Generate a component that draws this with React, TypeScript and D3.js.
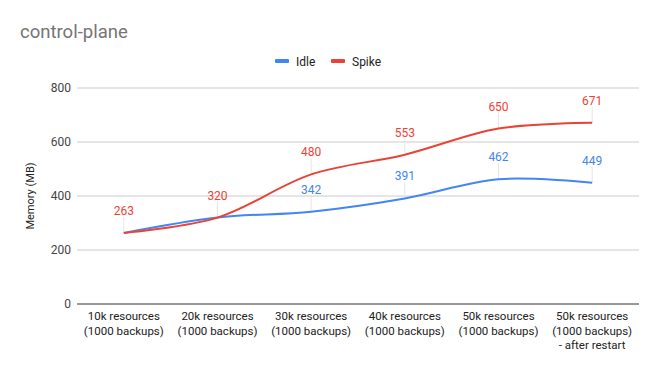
import React from "react";
import * as d3 from "d3";

const categories = [
  ["10k resources", "(1000 backups)"],
  ["20k resources", "(1000 backups)"],
  ["30k resources", "(1000 backups)"],
  ["40k resources", "(1000 backups)"],
  ["50k resources", "(1000 backups)"],
  ["50k resources", "(1000 backups)", "- after restart"],
];
const idle = [263, 320, 342, 391, 462, 449];
const spike = [263, 320, 480, 553, 650, 671];
const yTicks = [0, 200, 400, 600, 800];
const seriesNames = ["Idle", "Spike"];
const colors = ["#4285F4", "#EA4335"];

const W = 658, H = 371;
const left = 77, right = 639, top = 88, bottom = 304;

export default function App() {
  const x = d3.scaleBand<number>().domain(d3.range(categories.length)).range([left, right]);
  const cx = (i: number) => (x(i) as number) + x.bandwidth() / 2;
  const y = d3.scaleLinear().domain([0, 800]).range([bottom, top]);
  const line = d3
    .line<number>()
    .x((_, i) => cx(i))
    .y((d) => y(d))
    .curve(d3.curveCatmullRom.alpha(0.5));
  const series = [idle, spike];
  const font = "Roboto, Arial, sans-serif";

  const labelShown = (s: number, i: number) => {
    if (s === 0) return Math.abs(idle[i] - spike[i]) > 20;
    return true;
  };

  return (
    <svg width={W} height={H} style={{ position: "absolute", left: 0, top: 0, background: "#fff" }} fontFamily={font}>
      <rect width={W} height={H} fill="#fff" />
      <text x={20} y={38} fontSize={18.5} fill="#757575">control-plane</text>
      {seriesNames.map((n, k) => {
        const lx = k === 0 ? 275 : 331;
        return (
          <g key={n}>
            <rect x={lx} y={59} width={14} height={4} rx={1} fill={colors[k]} />
            <text x={lx + 21} y={65.5} fontSize={12} fill="#222">{n}</text>
          </g>
        );
      })}
      {yTicks.map((t) => (
        <g key={t}>
          {t !== 0 && <line x1={left} x2={right} y1={y(t)} y2={y(t)} stroke="#cccccc" strokeWidth={1} />}
          <text x={71} y={y(t) + 4} fontSize={12} textAnchor="end" fill="#444">{t}</text>
        </g>
      ))}
      <text transform={`translate(34,${(top + bottom) / 2}) rotate(-90)`} fontSize={11} textAnchor="middle" fill="#222">Memory (MB)</text>
      {series.map((s, k) =>
        s.map((v, i) =>
          labelShown(k, i) ? (
            <line key={`l${k}${i}`} x1={cx(i)} x2={cx(i)} y1={y(v)} y2={y(v) - 16} stroke="#e6e6e6" strokeWidth={1} />
          ) : null
        )
      )}
      {series.map((s, k) => (
        <path key={k} d={line(s) as string} fill="none" stroke={colors[k]} strokeWidth={2} />
      ))}
      {series.map((s, k) =>
        s.map((v, i) =>
          labelShown(k, i) ? (
            <text key={`t${k}${i}`} x={cx(i)} y={y(v) - 18} fontSize={12} textAnchor="middle" fill={colors[k]}>{v}</text>
          ) : null
        )
      )}
      <line x1={left} x2={right} y1={bottom} y2={bottom} stroke="#333" strokeWidth={1} />
      {categories.map((c, i) => (
        <text key={i} x={cx(i)} y={320} fontSize={11.5} textAnchor="middle" fill="#222">
          {c.map((ln, j) => (
            <tspan key={j} x={cx(i)} dy={j === 0 ? 0 : 14.5}>{ln}</tspan>
          ))}
        </text>
      ))}
    </svg>
  );
}
